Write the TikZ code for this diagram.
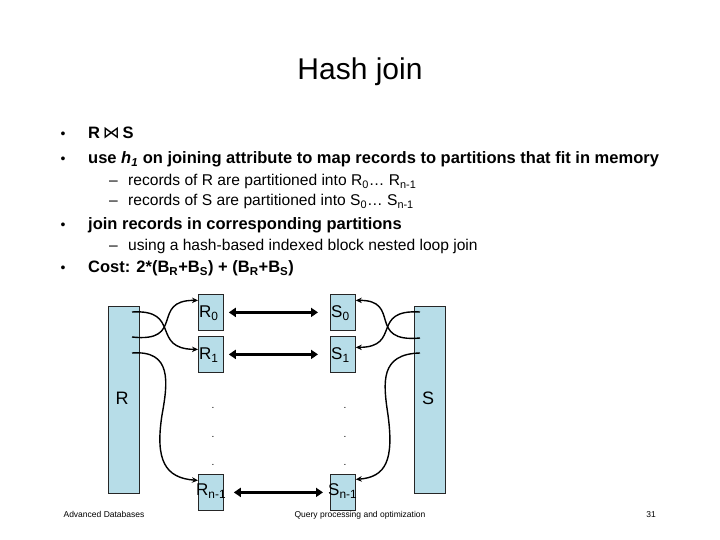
\documentclass[tikz,border=0pt]{standalone}
\usepackage{fontspec}
\setmainfont{Liberation Sans}
\newfontfamily\djv{DejaVu Sans}
\usetikzlibrary{arrows.meta}
\definecolor{boxblue}{RGB}{183,221,232}
\newcommand\fsz[1]{\fontsize{#1bp}{#1bp}\selectfont}
\begin{document}
\begin{tikzpicture}[x=1bp,y=-1bp,
  box/.style={draw=black!85, line width=0.8bp, fill=boxblue, inner sep=0pt},
  part/.style={box, anchor=north west, minimum width=25bp, minimum height=36bp},
  colbox/.style={box, anchor=north west, minimum width=31bp, minimum height=187bp},
  link/.style={line width=3bp, {Triangle[length=7bp,width=9bp]}-{Triangle[length=7bp,width=9bp]}},
  flow/.style={line width=1.4bp, -{Stealth[length=6bp,width=5.5bp]}},
  txt/.style={inner sep=0pt, anchor=base west},
  mainline/.style={txt, font=\fsz{16.5}\bfseries},
  subline/.style={txt, font=\fsz{15.6}},
  bul/.style={inner sep=0pt, anchor=base, font=\fsz{14}},
  plabel/.style={inner sep=0pt, anchor=west, font=\fsz{17}},
  dotn/.style={inner sep=0pt, font=\fsz{10}},
  foot/.style={inner sep=0pt, anchor=base, font=\fsz{8.5}}
]
\useasboundingbox (0,0) rectangle (720,540);

% title
\node[inner sep=0pt, anchor=base, font=\fsz{30}] (title) at (360,80) {Hash join};

% bullets
\node[bul] (b1) at (63,138.5) {•};
\node[mainline] (t1) at (88,138.5) {R\,{\djv\mdseries\fontsize{17bp}{17bp}\selectfont ⋈}\,S};
\node[bul] (b2) at (63,163.5) {•};
\node[mainline] (t2) at (88,163.5) {use \textit{h}\textsubscript{\textit{1}} on joining attribute to map records to partitions that fit in memory};
\node[subline] (d1) at (109,185.5) {–};
\node[subline] (s1) at (128,185.5) {records of R are partitioned into R\textsubscript{0}… R\textsubscript{n-1}};
\node[subline] (d2) at (109,205.5) {–};
\node[subline] (s2) at (128,205.5) {records of S are partitioned into S\textsubscript{0}… S\textsubscript{n-1}};
\node[bul] (b3) at (63,229.5) {•};
\node[mainline] (t3) at (88,229.5) {join records in corresponding partitions};
\node[subline] (d3) at (109,250.5) {–};
\node[subline] (s3) at (128,250.5) {using a hash-based indexed block nested loop join};
\node[bul] (b4) at (63,272.5) {•};
\node[mainline] (t4) at (88,272.5) {Cost: 2*(B\textsubscript{R}+B\textsubscript{S}) + (B\textsubscript{R}+B\textsubscript{S})};

% columns
\node[colbox] (R) at (108,306) {};
\node[colbox] (S) at (414,306) {};
\node[inner sep=0pt, font=\fsz{18}] (Rl) at (122,398) {R};
\node[inner sep=0pt, font=\fsz{18}] (Sl) at (428,398) {S};

% partitions
\node[part] (R0) at (198,294) {};
\node[part] (R1) at (198,336) {};
\node[part] (Rn) at (198,474) {};
\node[part] (S0) at (330,294) {};
\node[part] (S1) at (330,336) {};
\node[part] (Sn) at (330,474) {};
\node[plabel] (R0l) at (199,313) {R\textsubscript{0}};
\node[plabel] (R1l) at (199,355) {R\textsubscript{1}};
\node[plabel] (Rnl) at (196,491) {R\textsubscript{n-1}};
\node[plabel] (S0l) at (331,313) {S\textsubscript{0}};
\node[plabel] (S1l) at (331,355) {S\textsubscript{1}};
\node[plabel] (Snl) at (328,491) {S\textsubscript{n-1}};

% dots
\foreach \y [count=\i] in {408,437,465}{
  \node[dotn] (rd\i) at (213,\y) {.};
  \node[dotn] (sd\i) at (345,\y) {.};
}

% links between partitions
\draw[link] ([xshift=5bp]R0.east) -- ([xshift=-12bp]S0.west);
\draw[link] ([xshift=5bp]R1.east) -- ([xshift=-12bp]S1.west);
\draw[link] ([xshift=10bp]Rn.east) -- ([xshift=-7bp]Sn.west);

% flows from R and S
\coordinate (ra) at (132,312);
\coordinate (rb) at (132,337);
\coordinate (rc) at (132,353);
\coordinate (sa) at (420,312);
\coordinate (sb) at (420,338);
\coordinate (sc) at (420,353);
\draw[flow] (ra) .. controls (182,309) and (150,349) .. ([yshift=5bp]R1.west);
\draw[flow] (rb) .. controls (186,343) and (150,300) .. ([yshift=12bp]R0.west);
\draw[flow] (rc) .. controls (172,350) and (168,382) .. (162,415) .. controls (155,460) and (165,478) .. ([yshift=12bp]Rn.west);
\draw[flow] (sa) .. controls (370,309) and (402,347) .. ([yshift=7bp]S1.east);
\draw[flow] (sb) .. controls (366,343) and (402,300) .. ([yshift=12bp]S0.east);
\draw[flow] (sc) .. controls (380,354) and (383,382) .. (388,415) .. controls (394,460) and (386,477) .. ([yshift=13bp]Sn.east);

% footer
\node[foot] (f1) at (104,517) {Advanced Databases};
\node[foot] (f2) at (360,517) {Query processing and optimization};
\node[foot] (f3) at (651,517) {31};
\end{tikzpicture}
\end{document}
